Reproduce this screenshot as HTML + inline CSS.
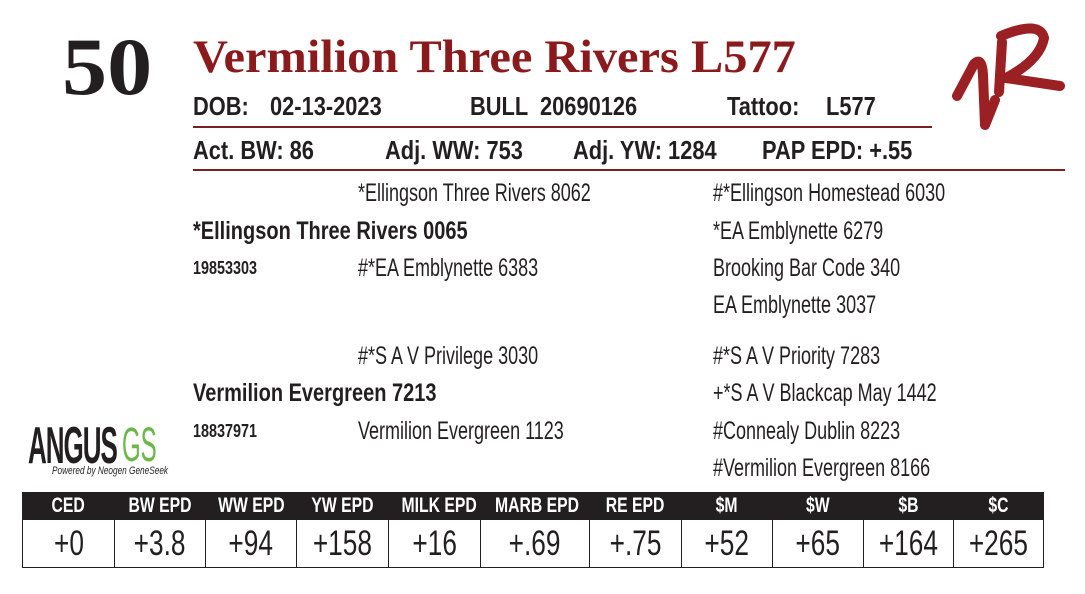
<!DOCTYPE html>
<html><head><meta charset="utf-8"><style>
body{margin:0;width:1085px;height:594px;background:#fff;position:relative;overflow:hidden;font-family:"Liberation Sans",sans-serif;color:#231f20}
.t{position:absolute;white-space:nowrap;transform:scaleX(.72);transform-origin:0 50%;line-height:1}
.p{font-size:25px}
.b{font-weight:bold;transform:scaleX(.8)}
.h{font-size:26px;font-weight:bold;transform:scaleX(.84)}
.r{position:absolute;height:1.5px;background:#7a1f22}
table{position:absolute;left:22px;top:492px;border-collapse:collapse;table-layout:fixed;width:1021px}
td{border:1.5px solid #231f20;text-align:center;padding:0;overflow:hidden}
.hd td{background:#231f20;color:#fff;height:26px;font-weight:bold;font-size:21px;border-color:#231f20}
.bd td{height:47px;font-size:35px}
td span{display:inline-block;transform:scaleX(.75);white-space:nowrap}
</style></head><body>
<div class="t" style="left:62px;top:26px;font-family:'Liberation Serif',serif;font-weight:bold;font-size:82px;transform:scaleX(1.1)">50</div>
<div class="t" style="left:193px;top:34px;font-family:'Liberation Serif',serif;font-weight:bold;font-size:47px;color:#8b1a1d;transform:scaleX(1.03)">Vermilion Three Rivers L577</div>
<div class="t h" style="left:193px;top:93px">DOB:</div>
<div class="t h" style="left:270px;top:93px">02-13-2023</div>
<div class="t h" style="left:470px;top:93px">BULL</div>
<div class="t h" style="left:540px;top:93px">20690126</div>
<div class="t h" style="left:727px;top:93px">Tattoo:</div>
<div class="t h" style="left:826px;top:93px">L577</div>
<div class="r" style="left:193px;top:126px;width:739px"></div>
<div class="t h" style="left:193px;top:137px">Act. BW: 86</div>
<div class="t h" style="left:385px;top:137px">Adj. WW: 753</div>
<div class="t h" style="left:573px;top:137px">Adj. YW: 1284</div>
<div class="t h" style="left:762px;top:137px">PAP EPD: +.55</div>
<div class="r" style="left:193px;top:169px;width:872px"></div>

<div class="t p" style="left:358px;top:181px">*Ellingson Three Rivers 8062</div>
<div class="t p" style="left:713px;top:181px">#*Ellingson Homestead 6030</div>
<div class="t p b" style="left:193px;top:219px">*Ellingson Three Rivers 0065</div>
<div class="t p" style="left:713px;top:219px">*EA Emblynette 6279</div>
<div class="t b" style="left:193px;top:259px;font-size:18px">19853303</div>
<div class="t p" style="left:358px;top:256px">#*EA Emblynette 6383</div>
<div class="t p" style="left:713px;top:256px">Brooking Bar Code 340</div>
<div class="t p" style="left:713px;top:293px">EA Emblynette 3037</div>
<div class="t p" style="left:358px;top:344px">#*S A V Privilege 3030</div>
<div class="t p" style="left:713px;top:344px">#*S A V Priority 7283</div>
<div class="t p b" style="left:193px;top:381px">Vermilion Evergreen 7213</div>
<div class="t p" style="left:713px;top:381px">+*S A V Blackcap May 1442</div>
<div class="t b" style="left:193px;top:422px;font-size:18px">18837971</div>
<div class="t p" style="left:358px;top:419px">Vermilion Evergreen 1123</div>
<div class="t p" style="left:713px;top:419px">#Connealy Dublin 8223</div>
<div class="t p" style="left:713px;top:456px">#Vermilion Evergreen 8166</div>

<div class="t" style="left:28px;top:420px;font-size:52px;font-weight:bold;transform:scaleX(.5);letter-spacing:-2px">ANGUS</div>
<div class="t" style="left:122px;top:422px;font-size:48px;color:#6cb74a;transform:scaleX(.5)">GS</div>
<div class="t" style="left:52px;top:466px;font-size:11px;font-style:italic;transform:scaleX(.75)">Powered by Neogen GeneSeek</div>

<svg style="position:absolute;left:0;top:0" width="1085" height="594">
<path d="M957,96 L974,64 Q982,56 983,75 L985,125 L995,100 M1002,42 L999,92 M1001,36 Q1040,20 1044,38 Q1040,60 1006,78 L1060,86" fill="none" stroke="#9a2024" stroke-width="10" stroke-linecap="round" stroke-linejoin="round"/>
</svg>

<table>
<colgroup><col style="width:92px"><col style="width:91px"><col style="width:91px"><col style="width:92px"><col style="width:92px"><col style="width:109px"><col style="width:92px"><col style="width:91px"><col style="width:91px"><col style="width:90px"><col style="width:90px"></colgroup>
<tr class="hd"><td><span>CED</span></td><td><span>BW EPD</span></td><td><span>WW EPD</span></td><td><span>YW EPD</span></td><td><span>MILK EPD</span></td><td><span>MARB EPD</span></td><td><span>RE EPD</span></td><td><span>$M</span></td><td><span>$W</span></td><td><span>$B</span></td><td><span>$C</span></td></tr>
<tr class="bd"><td><span>+0</span></td><td><span>+3.8</span></td><td><span>+94</span></td><td><span>+158</span></td><td><span>+16</span></td><td><span>+.69</span></td><td><span>+.75</span></td><td><span>+52</span></td><td><span>+65</span></td><td><span>+164</span></td><td><span>+265</span></td></tr>
</table>
</body></html>
